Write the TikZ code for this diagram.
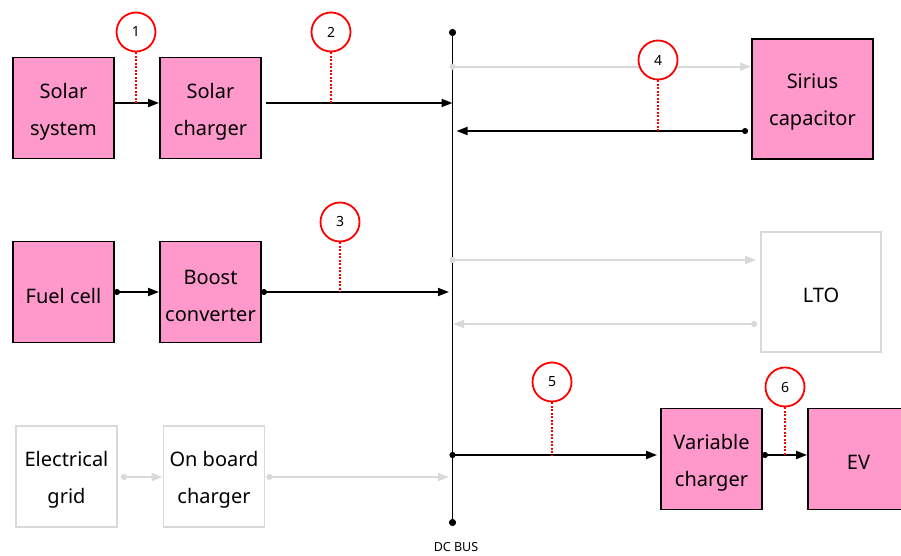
\documentclass[tikz,border=0pt]{standalone}
\usepackage{fontspec}
\setmainfont{Noto Sans}
\usetikzlibrary{arrows.meta,positioning,calc}
\definecolor{unit}{RGB}{255,153,204}
\definecolor{idle}{RGB}{217,217,217}

\begin{document}
\begin{tikzpicture}[x=1pt, y=-1pt,
  boxtext/.style={font=\fontsize{20}{37}\selectfont, align=center, yshift=-3.5pt, inner sep=0pt},
  unitbox/.style={draw=black, line width=1.9pt, fill=unit, minimum width=101pt,
                  minimum height=101pt, inner sep=0pt, label={[boxtext]center:{#1}}},
  offbox/.style={unitbox={#1}, draw=idle, fill=white},
  flow/.style={line width=1.9pt, -{Triangle[length=11pt,width=8pt]}},
  flowd/.style={line width=1.9pt, {Circle[length=6pt]}-{Triangle[length=11pt,width=8pt]}},
  ghostd/.style={flowd, draw=idle, fill=idle},
  tag/.style={circle, draw=red, line width=1.8pt, fill=white, minimum size=39pt,
              inner sep=0pt, font=\fontsize{14}{16}\selectfont},
  lead/.style={red, line width=1.8pt, dash pattern=on 2pt off 1.5pt}]
\clip (0,0) rectangle (901,556);

% units
\node[unitbox={Solar\\system}]  (solar)  at (63.5,108)  {};
\node[unitbox={Solar\\charger}] (solchg) at (210.5,108) {};
\node[unitbox={Sirius\\capacitor}, minimum width=121pt, minimum height=120pt] (cap) at (812.5,99) {};
\node[unitbox={Fuel cell}]      (fuel)   at (63.5,292)  {};
\node[unitbox={Boost\\converter}] (boost) at (210.5,292) {};
\node[offbox={LTO}, minimum width=120pt, minimum height=120pt] (lto) at (821,292) {};
\node[offbox={Electrical\\grid}] (grid) at (66.5,476.5) {};
\node[offbox={On board\\charger}] (obc) at (214,476.5) {};
\node[unitbox={Variable\\charger}] (varchg) at (711.5,459) {};
\node[unitbox={EV}]             (ev)     at (858.5,459) {};

% DC bus
\coordinate (bustop) at (452.5,29);
\coordinate (busbot) at (452.5,526);
\draw[line width=1.9pt, {Circle[length=7pt]}-{Circle[length=7pt]}] (bustop) -- (busbot);
\node[font=\fontsize{12.5}{14}\selectfont] (buslabel) at (456,547) {DC BUS};

% bus taps
\coordinate (b1) at (452.5,103);
\coordinate (b2) at (449.5,66.7);
\coordinate (b3) at (456.5,131);
\coordinate (b4) at (449,292);
\coordinate (b5) at (449.5,260);
\coordinate (b6) at (453,324);
\coordinate (b7) at (449,477);
\coordinate (b8) at (449.5,455);

\draw[flow]   (solar.east |- b1) -- (solchg.west |- b1);
\draw[flow]   ([xshift=4pt]solchg.east |- b1) -- (b1);
\draw[ghostd] (b2) -- (cap.west |- b2);
\draw[flowd]  ([xshift=-3pt]cap.west |- b3) -- (b3);
\draw[flowd]  ([xshift=-1pt]fuel.east) -- (boost.west);
\draw[flowd]  ([xshift=-1pt]boost.east) -- (b4);
\draw[ghostd] (b5) -- ([xshift=-4pt]lto.west |- b5);
\draw[ghostd] ([xshift=-3pt]lto.west |- b6) -- (b6);
\draw[ghostd] ([xshift=3pt]grid.east |- b7) -- (obc.west |- b7);
\draw[ghostd] ([xshift=1pt]obc.east |- b7) -- (b7);
\draw[flowd]  (b8) -- ([xshift=-3pt]varchg.west |- b8);
\draw[flowd]  ([xshift=-1pt]varchg.east |- b8) -- (ev.west |- b8);

% numbered markers
\foreach \n/\pos/\tgt in {1/{136,32}/b1, 2/{331,32}/b1, 3/{340,222}/b4,
                          4/{658,60}/b3, 5/{552,382}/b8, 6/{785,387}/b8}{
  \node[tag] (m\n) at (\pos) {\n};
  \draw[lead] (m\n.south) -- (m\n.south |- \tgt);
}
\end{tikzpicture}
\end{document}
